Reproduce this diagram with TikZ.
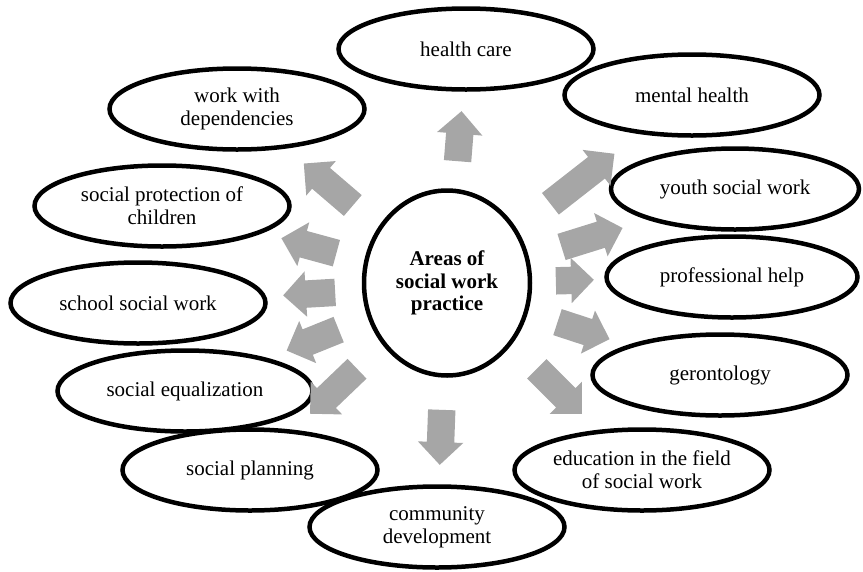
\documentclass[tikz,border=0pt]{standalone}
\usepackage{fontspec}
\setmainfont{Liberation Serif}
\usetikzlibrary{calc,shapes.geometric,shapes.arrows}
\definecolor{arrowgray}{RGB}{166,166,166}
\newcommand{\blockarrow}[3]{%
  \path let \p1=($(#3)-(#2)$), \n1={atan2(\y1,\x1)}, \n2={veclen(\x1,\y1)} in
    node[blockarr, rotate=\n1, minimum height=\n2] (#1) at ($(#2)!0.5!(#3)$) {};}

\begin{document}
\begin{tikzpicture}[x=1pt,y=-1pt,
    area/.style={ellipse, draw, line width=4.5pt, minimum width=255pt, minimum height=81pt,
      inner sep=0pt, align=center, font=\fontsize{21}{23}\selectfont},
    blockarr/.style={single arrow, fill=arrowgray, draw=none, inner xsep=0pt, inner ysep=13.5pt,
      single arrow head extend=9pt}]
    \useasboundingbox (0,0) rectangle (863,571);

    % centre
    \node[area, minimum width=166pt, minimum height=185pt, font=\fontsize{21}{22.5}\selectfont\bfseries]
      (centre) at (447,283) {Areas of\\social work\\practice};

    % areas, clockwise from the top
    \node[area] (health) at (466,49) {health care};
    \node[area] (mental) at (692,95) {mental health};
    \node[area, minimum width=248pt] (youth) at (735,189) {youth social work};
    \node[area, minimum width=251pt] (profhelp) at (732,277) {professional help};
    \node[area] (geront) at (720,375) {gerontology};
    \node[area] (educ) at (642,470) {education in the field\\of social work};
    \node[area] (community) at (437,527) {community\\development};
    \node[area] (planning) at (250,470) {social planning};
    \node[area] (equal) at (185,391) {social equalization};
    \node[area] (school) at (138,303) {school social work};
    \node[area] (protect) at (162,206) {social protection of\\children};
    \node[area] (depend) at (237,109) {work with\\dependencies};

    % arrows: name, tail, tip
    \blockarrow{toHealth}{457,168}{461,118}
    \blockarrow{toMental}{545,208}{609,158}
    \blockarrow{toYouth}{555,249}{616,230}
    \blockarrow{toProf}{549,281}{587,280}
    \blockarrow{toGeront}{551,320}{603,337}
    \blockarrow{toEduc}{532,364}{577,409}
    \blockarrow{toCommunity}{442,403}{440,458}
    \blockarrow{toPlanning}{362,364}{315,409}
    \blockarrow{toEqual}{345,327}{293,348}
    \blockarrow{toSchool}{342,292}{290,295}
    \blockarrow{toProtect}{343,255}{288,240}
    \blockarrow{toDepend}{358,210}{309,168}
\end{tikzpicture}
\end{document}
